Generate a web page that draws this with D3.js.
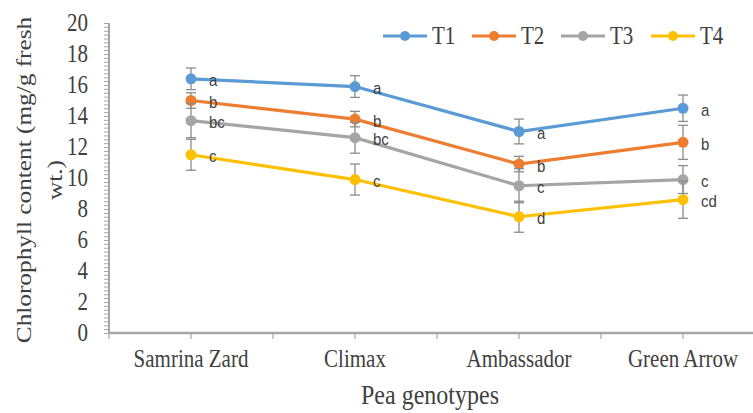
<!DOCTYPE html>
<html>
<head>
<meta charset="utf-8">
<script src="https://cdn.jsdelivr.net/npm/d3@7"></script>
<style>
  body { margin: 0; background: #fff; }
  svg { display: block; }
</style>
</head>
<body>
<svg width="753" height="413"></svg>
<script>
// data
var categories = ["Samrina Zard", "Climax", "Ambassador", "Green Arrow"];
var seriesNames = ["T1", "T2", "T3", "T4"];
var colors = ["#5b9bd5", "#ed7d31", "#a5a5a5", "#ffc000"];

var t1 = [16.4, 15.9, 13.0, 14.5];
var t2 = [15.0, 13.8, 10.9, 12.3];
var t3 = [13.7, 12.6, 9.5, 9.9];
var t4 = [11.5, 9.9, 7.5, 8.6];

var t1Err = [0.7, 0.7, 0.8, 0.85];
var t2Err = [0.5, 0.5, 0.5, 1.1];
var t3Err = [1.1, 1.0, 1.1, 0.9];
var t4Err = [1.0, 1.0, 1.0, 1.2];

var t1Letters = ["a", "a", "a", "a"];
var t2Letters = ["b", "b", "b", "b"];
var t3Letters = ["bc", "bc", "c", "c"];
var t4Letters = ["c", "c", "d", "cd"];

var yTicks = [0, 2, 4, 6, 8, 10, 12, 14, 16, 18, 20];

var series = [
  {name: "T1", values: t1, err: t1Err, letters: t1Letters},
  {name: "T2", values: t2, err: t2Err, letters: t2Letters},
  {name: "T3", values: t3, err: t3Err, letters: t3Letters},
  {name: "T4", values: t4, err: t4Err, letters: t4Letters}
];

var serif = "'Liberation Serif', 'Times New Roman', serif";
var sans = "'Liberation Sans', Arial, sans-serif";
var axisCol = "#a6a6a6";
var textCol = "#404040";
var stretch = 1.15; // the picture is a bit taller than wide in its glyphs

var svg = d3.select("svg");

var x0 = 109, x1 = 765, yTop = 23, yBot = 333;

var x = d3.scaleBand().domain(categories).range([x0, x1]);
var y = d3.scaleLinear().domain([0, 20]).range([yBot, yTop]);
var color = d3.scaleOrdinal().domain(seriesNames).range(colors);

function cx(i) { return x(categories[i]) + x.bandwidth() / 2; }

function place(px, py, k) {
  return "translate(" + [px, py] + ") scale(1," + (k || stretch) + ")";
}

// ----- y axis with minor ticks -----
var minor = d3.range(0, 20.001, 0.25);
svg.append("g").selectAll("line").data(minor).enter().append("line")
  .attr("x1", x0 - 5).attr("x2", x0)
  .attr("y1", function(d){ return y(d) + 0.5; })
  .attr("y2", function(d){ return y(d) + 0.5; })
  .attr("stroke", axisCol).attr("stroke-width", 1);

svg.append("line")
  .attr("x1", x0).attr("x2", x0)
  .attr("y1", y(20)).attr("y2", y(0))
  .attr("stroke", axisCol).attr("stroke-width", 2);

svg.append("g").selectAll("text").data(yTicks).enter().append("text")
  .attr("transform", function(d){ return place(88, y(d)); })
  .attr("dy", "0.35em")
  .attr("text-anchor", "end")
  .style("font-family", serif).style("font-size", "21px").style("fill", textCol)
  .text(function(d){ return d; });

// ----- x axis -----
svg.append("line")
  .attr("x1", x0).attr("x2", x1)
  .attr("y1", y(0)).attr("y2", y(0))
  .attr("stroke", axisCol).attr("stroke-width", 2.5);

var xTickPos = d3.range(0, 9).map(function(k){ return x0 + k * x.bandwidth() / 2; });
svg.append("g").selectAll("line").data(xTickPos).enter().append("line")
  .attr("x1", function(d){ return d; }).attr("x2", function(d){ return d; })
  .attr("y1", y(0)).attr("y2", y(0) + 6)
  .attr("stroke", axisCol).attr("stroke-width", 1.2);

svg.append("g").selectAll("text").data(categories).enter().append("text")
  .attr("transform", function(d){ return place(x(d) + x.bandwidth() / 2, 367); })
  .attr("text-anchor", "middle")
  .style("font-family", serif).style("font-size", "21px").style("fill", textCol)
  .text(function(d){ return d; });

svg.append("text")
  .attr("transform", place(430, 404))
  .attr("text-anchor", "middle")
  .style("font-family", serif).style("font-size", "24px").style("fill", textCol)
  .text("Pea genotypes");

// y axis title, two lines
var yt = svg.append("text")
  .attr("transform", "translate(31,180) rotate(-90) scale(" + stretch + ",1)")
  .attr("text-anchor", "middle")
  .style("font-family", serif).style("font-size", "22px").style("fill", textCol);
yt.append("tspan").attr("x", 0).attr("y", 0).text("Chlorophyll content (mg/g fresh");
yt.append("tspan").attr("x", 0).attr("y", 31).text("wt.)");

// ----- series -----
var line = d3.line()
  .x(function(d, i){ return cx(i); })
  .y(function(d){ return y(d); });

var sg = svg.append("g");

series.forEach(function(s){
  var col = color(s.name);
  var g = sg.append("g");

  g.append("path")
    .attr("d", line(s.values))
    .attr("fill", "none")
    .attr("stroke", col)
    .attr("stroke-width", 3.2);

  // error bars
  s.values.forEach(function(v, i){
    var e = s.err[i], px = cx(i);
    g.append("line")
      .attr("x1", px).attr("x2", px)
      .attr("y1", y(v + e)).attr("y2", y(v - e))
      .attr("stroke", "#8c8c8c").attr("stroke-width", 1.3);
    [v + e, v - e].forEach(function(w){
      g.append("line")
        .attr("x1", px - 5).attr("x2", px + 5)
        .attr("y1", y(w)).attr("y2", y(w))
        .attr("stroke", "#8c8c8c").attr("stroke-width", 1.3);
    });
  });

  g.selectAll("circle").data(s.values).enter().append("circle")
    .attr("cx", function(d, i){ return cx(i); })
    .attr("cy", function(d){ return y(d); })
    .attr("r", 5.5)
    .attr("fill", col);

  g.selectAll("text").data(s.values).enter().append("text")
    .attr("transform", function(d, i){ return place(cx(i) + 18, y(d) + 2, 1.05); })
    .attr("dy", "0.35em")
    .style("font-family", sans)
    .style("font-size", "15px").style("fill", textCol)
    .text(function(d, i){ return s.letters[i]; });
});

// ----- legend -----
var legX = [383, 472, 561, 651];
var lg = svg.append("g").selectAll("g").data(seriesNames).enter().append("g")
  .attr("transform", function(d, i){ return "translate(" + legX[i] + ",36)"; });
lg.append("line")
  .attr("x1", 0).attr("x2", 44).attr("y1", 0).attr("y2", 0)
  .attr("stroke", function(d){ return color(d); }).attr("stroke-width", 3.2);
lg.append("circle")
  .attr("cx", 22).attr("cy", 0).attr("r", 5)
  .attr("fill", function(d){ return color(d); });
lg.append("text")
  .attr("transform", place(49, 0))
  .attr("dy", "0.35em")
  .style("font-family", serif).style("font-size", "21px").style("fill", textCol)
  .text(function(d){ return d; });
</script>
</body>
</html>
